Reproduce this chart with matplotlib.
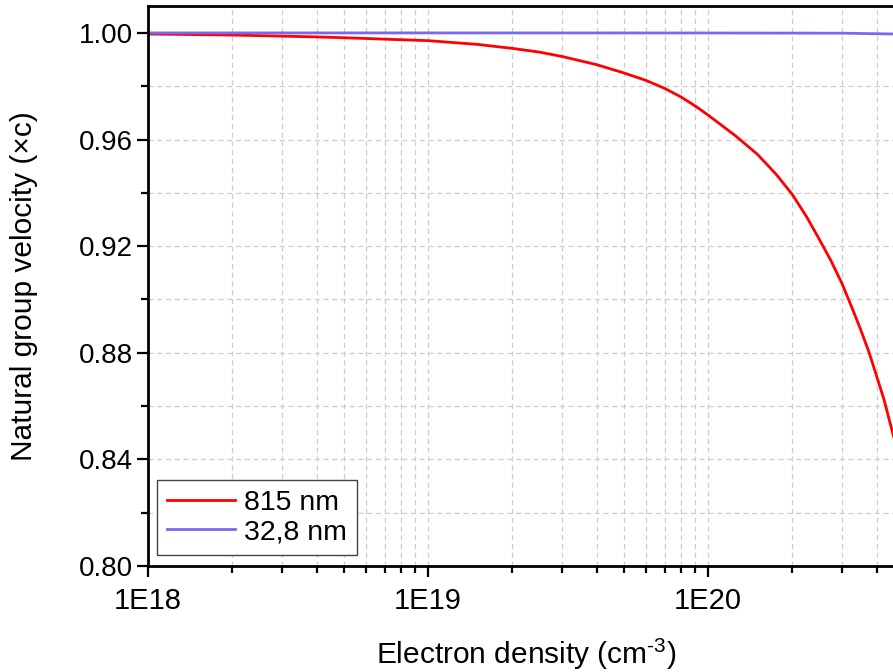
import matplotlib.pyplot as plt
from matplotlib.ticker import FixedLocator, LogLocator, NullFormatter, FuncFormatter
import numpy as np

plt.rcParams['font.family'] = ['Liberation Sans', 'DejaVu Sans']
plt.rcParams['mathtext.fontset'] = 'custom'
plt.rcParams['mathtext.rm'] = 'Liberation Sans'

# values
density_815 = [1e18, 2e18, 3e18, 4e18, 5e18, 1e19, 1.5e19, 2e19, 2.5e19, 3e19, 4e19,
               5e19, 6e19, 7e19, 8e19, 9e19, 1e20, 1.25e20, 1.5e20, 1.75e20, 2e20,
               2.25e20, 2.5e20, 2.75e20, 3e20, 3.25e20, 3.5e20, 3.75e20, 4e20,
               4.25e20, 4.5e20, 4.75e20]
velocity_815 = [0.9996, 0.9992, 0.9988, 0.9985, 0.9982, 0.9971, 0.9957, 0.9942, 0.9928,
                0.9912, 0.9881, 0.9850, 0.9822, 0.9792, 0.9760, 0.9726, 0.9692, 0.9615,
                0.9545, 0.9470, 0.9394, 0.9310, 0.9225, 0.9145, 0.9063, 0.8975, 0.8890,
                0.8805, 0.8713, 0.8625, 0.8525, 0.8430]

density_328 = [1e18, 1e19, 1e20, 3e20, 4.6e20, 1e21]
velocity_328 = [1.0, 1.0, 0.99998, 0.9999, 0.9996, 0.9992]

labels = ['815 nm', '32,8 nm']
colors = ['#ff0000', '#7b68ee']

fig = plt.figure(figsize=(8.93, 6.72), dpi=100)
# axes reaches past the right edge of the image, as in the reference
ax = fig.add_axes([148 / 893, 106 / 672, 840 / 893, 560 / 672])

ax.plot(density_815, velocity_815, color=colors[0], lw=2.0, label=labels[0],
        solid_joinstyle='round')
ax.plot(density_328, velocity_328, color=colors[1], lw=2.0, label=labels[1])

ax.set_xscale('log')
ax.set_xlim(1e18, 1e21)
ax.set_ylim(0.80, 1.0101)

ax.xaxis.set_major_locator(FixedLocator([1e18, 1e19, 1e20]))
ax.xaxis.set_major_formatter(FuncFormatter(lambda v, p: '1E%d' % round(np.log10(v))))
ax.xaxis.set_minor_locator(LogLocator(base=10, subs=np.arange(2, 10)))
ax.xaxis.set_minor_formatter(NullFormatter())

ax.set_yticks(np.arange(0.80, 1.001, 0.04))
ax.set_yticks(np.arange(0.82, 1.0, 0.04), minor=True)
ax.yaxis.set_major_formatter(FuncFormatter(lambda v, p: '%.2f' % v))

ax.grid(True, which='both', color='#cccccc', linestyle=(0, (4, 3)), linewidth=0.9)
ax.set_axisbelow(True)

for side in ['left', 'bottom', 'top', 'right']:
    ax.spines[side].set_linewidth(2.0)

ax.tick_params(which='major', direction='out', length=8, width=1.6)
ax.tick_params(which='minor', direction='out', length=5, width=1.6)
ax.tick_params(axis='y', labelsize=20, pad=3)
ax.tick_params(axis='x', labelsize=21, pad=7)
ax.tick_params(top=False, right=False, which='both')

ax.set_xlabel('Electron density (cm$^{\\text{-3}}$)', fontsize=21.5)
ax.xaxis.set_label_coords(0.45, -0.125)
ax.set_ylabel('Natural group velocity (\u00d7c)', fontsize=21.5, labelpad=29)

leg = ax.legend(loc='lower left', bbox_to_anchor=(0.0107, 0.0196), borderaxespad=0,
                fontsize=20.5, frameon=True, fancybox=False, framealpha=1,
                edgecolor='#444444', handlelength=2.4, handletextpad=0.3,
                labelspacing=0.1, borderpad=0.35)
leg.get_frame().set_linewidth(1.0)

plt.savefig('out.png', dpi=100)
plt.close()
